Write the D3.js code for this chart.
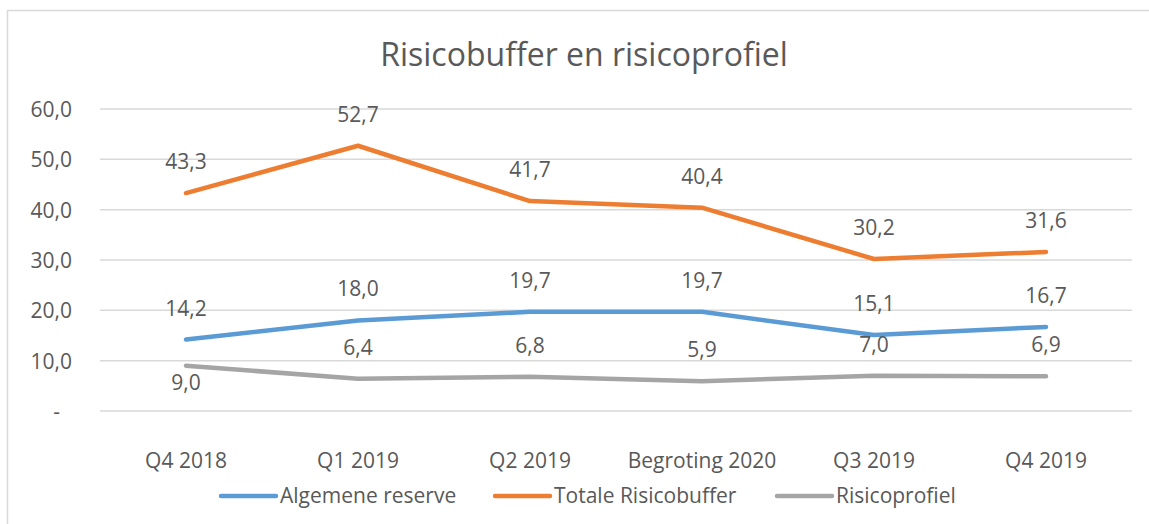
<!DOCTYPE html>
<html>
<head>
<meta charset="utf-8">
<script src="https://cdn.jsdelivr.net/npm/d3@7"></script>
<style>
  body { margin: 0; background: #fff; }
  svg text { font-family: "Open Sans", sans-serif; fill: #595959; }
</style>
</head>
<body>
<div id="chart"></div>
<script>
var categories = ["Q4 2018", "Q1 2019", "Q2 2019", "Begroting 2020", "Q3 2019", "Q4 2019"];
var algemeneReserve = [14.2, 18.0, 19.7, 19.7, 15.1, 16.7];
var totaleRisicobuffer = [43.3, 52.7, 41.7, 40.4, 30.2, 31.6];
var risicoprofiel = [9.0, 6.4, 6.8, 5.9, 7.0, 6.9];
var yTicks = [0, 10, 20, 30, 40, 50, 60];

var series = [
    { name: "Algemene reserve", values: algemeneReserve, color: "#5B9BD5" },
    { name: "Totale Risicobuffer", values: totaleRisicobuffer, color: "#ED7D31" },
    { name: "Risicoprofiel", values: risicoprofiel, color: "#A5A5A5" }
];

var width = 1149, height = 524;
var margin = { top: 109, right: 17, bottom: 113, left: 100 };

var svg = d3.select("#chart").append("svg")
    .attr("width", width)
    .attr("height", height);

// chart border (right and bottom run off the picture)
svg.append("rect")
    .attr("x", 7.5).attr("y", 10.5)
    .attr("width", width + 10).attr("height", height + 10)
    .style("fill", "none")
    .style("stroke", "#D9D9D9")
    .style("stroke-width", 1.5);

svg.append("text")
    .attr("x", 584)
    .attr("y", 66)
    .attr("text-anchor", "middle")
    .style("font-size", "32px")
    .text("Risicobuffer en risicoprofiel");

var xScale = d3.scaleBand()
    .domain(categories)
    .range([margin.left, width - margin.right])
    .padding(0);

var yScale = d3.scaleLinear()
    .domain([0, 60])
    .range([height - margin.bottom, margin.top]);

function xc(c) { return xScale(c) + xScale.bandwidth() / 2; }
function fmt(v) { return v.toFixed(1).replace(".", ","); }

// gridlines
svg.append("g")
    .selectAll("line")
    .data(yTicks)
    .enter().append("line")
    .attr("x1", margin.left)
    .attr("x2", width - margin.right)
    .attr("y1", function(d) { return yScale(d); })
    .attr("y2", function(d) { return yScale(d); })
    .style("stroke", "#D9D9D9")
    .style("stroke-width", 1.5);

// y axis labels
var yAxis = svg.append("g")
    .attr("transform", "translate(" + (margin.left - 28) + ",0)")
    .call(d3.axisLeft(yScale).tickValues(yTicks).tickSize(0).tickPadding(0)
        .tickFormat(function(d) { return d === 0 ? "-" : fmt(d); }));
yAxis.select(".domain").remove();
yAxis.selectAll("text")
    .style("font-size", "21px")
    .style("font-family", "'Open Sans', sans-serif")
    .attr("fill", "#595959")
    .attr("dy", "0.36em")
    .attr("x", function(d) { return d === 0 ? -12 : 0; });

// x axis labels
var xAxis = svg.append("g")
    .attr("transform", "translate(0," + yScale(0) + ")")
    .call(d3.axisBottom(xScale).tickSize(0).tickPadding(0));
xAxis.select(".domain").remove();
xAxis.selectAll("text")
    .style("font-size", "21px")
    .style("font-family", "'Open Sans', sans-serif")
    .attr("fill", "#595959")
    .attr("dy", 0)
    .attr("y", 57);

var line = d3.line()
    .x(function(d, i) { return xc(categories[i]); })
    .y(function(d) { return yScale(d); });

series.forEach(function(s) {
    svg.append("path")
        .datum(s.values)
        .attr("d", line)
        .style("fill", "none")
        .style("stroke", s.color)
        .style("stroke-width", 4.5)
        .style("stroke-linecap", "round")
        .style("stroke-linejoin", "round");
});

// data labels
series.forEach(function(s) {
    svg.append("g")
        .selectAll("text")
        .data(s.values)
        .enter().append("text")
        .attr("x", function(d, i) { return xc(categories[i]); })
        .attr("y", function(d, i) {
            if (s.name === "Risicoprofiel" && i === 0) return yScale(d) + 24;
            return yScale(d) - 24;
        })
        .attr("text-anchor", "middle")
        .style("font-size", "21px")
        .text(function(d) { return fmt(d); });
});

// legend
var legendX = [221, 495, 777];
var legend = svg.append("g")
    .selectAll("g")
    .data(series)
    .enter().append("g")
    .attr("transform", function(d, i) { return "translate(" + legendX[i] + ",496)"; });

legend.append("line")
    .attr("x1", 0).attr("x2", 55)
    .style("stroke", function(d) { return d.color; })
    .style("stroke-width", 4.5)
    .style("stroke-linecap", "round");

legend.append("text")
    .attr("x", 59)
    .attr("y", 7)
    .style("font-size", "21px")
    .text(function(d) { return d.name; });
</script>
</body>
</html>
